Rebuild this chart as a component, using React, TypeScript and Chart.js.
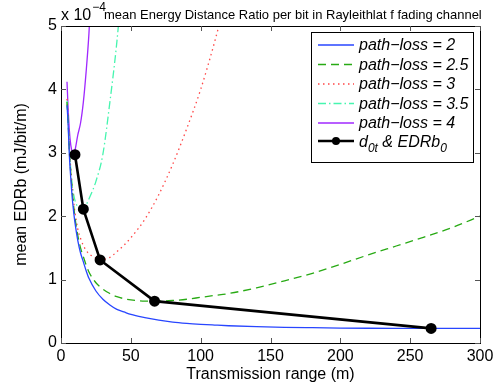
import React, { useEffect, useRef } from "react";
import { Chart, registerables } from "chart.js";

Chart.register(...registerables);

// Transmission range samples (m)
const distances = [4.3, 5, 6, 7, 8, 9, 10, 12, 14, 16, 18, 20, 25, 30, 35, 40, 45, 50, 60, 70, 80, 90, 100, 110, 120, 140, 160, 180, 200, 220, 240, 260, 280, 300];

// mean EDRb (x 1e-4 mJ/bit/m)
const pl2 = [3.75, 3.5, 2.95, 2.6, 2.3, 2.08, 1.9, 1.62, 1.42, 1.28, 1.14, 1.02, 0.82, 0.69, 0.6, 0.53, 0.49, 0.45, 0.4, 0.36, 0.33, 0.31, 0.295, 0.283, 0.272, 0.257, 0.247, 0.241, 0.236, 0.233, 0.231, 0.23, 0.23, 0.231];
const pl25 = [3.8, 3.55, 3.02, 2.68, 2.4, 2.17, 1.98, 1.7, 1.5, 1.36, 1.23, 1.12, 0.95, 0.85, 0.78, 0.73, 0.7, 0.68, 0.66, 0.66, 0.67, 0.69, 0.72, 0.75, 0.78, 0.87, 0.98, 1.1, 1.24, 1.39, 1.53, 1.67, 1.82, 2.0];
const pl3 = [3.85, 3.6, 3.08, 2.74, 2.46, 2.24, 2.06, 1.8, 1.65, 1.54, 1.46, 1.41, 1.34, 1.32, 1.35, 1.44, 1.54, 1.66, 1.95, 2.34, 2.82, 3.38, 4.0, 4.75, 5.6, null, null, null, null, null, null, null, null, null];
const pl35 = [3.82, 3.57, 3.06, 2.74, 2.5, 2.35, 2.25, 2.15, 2.12, 2.12, 2.18, 2.27, 2.55, 2.98, 3.8, 4.75, 6.0, null, null, null, null, null, null, null, null, null, null, null, null, null, null, null, null, null];
const pl4 = [4.12, 3.75, 3.35, 3.12, 3.02, 3.0, 3.04, 3.28, 3.47, 3.8, 4.28, 4.88, 7.0, null, null, null, null, null, null, null, null, null, null, null, null, null, null, null, null, null, null, null, null, null];

// optimal points d_0t & EDRb_0
const optDistance = [10, 16, 28, 67, 265];
const optEdr = [2.97, 2.11, 1.31, 0.66, 0.23];

const xTicks = [0, 50, 100, 150, 200, 250, 300];
const yTicks = [0, 1, 2, 3, 4, 5];

const legendLabels = ["path\u2212loss = 2", "path\u2212loss = 2.5", "path\u2212loss = 3", "path\u2212loss = 3.5", "path\u2212loss = 4"];

const FONT = "'Liberation Sans', Arial, Helvetica, sans-serif";

function toPoints(ys: (number | null)[]) {
  return distances.map((d, i) => ({ x: d, y: ys[i] }));
}

export default function App() {
  const ref = useRef<HTMLCanvasElement | null>(null);

  useEffect(() => {
    document.body.style.margin = "0";
    const canvas = ref.current;
    if (!canvas) return;

    const series = [
      { data: pl2, color: "rgb(40,70,255)", dash: [] as number[] },
      { data: pl25, color: "rgb(40,170,20)", dash: [8, 5] },
      { data: pl3, color: "rgb(255,70,70)", dash: [1.5, 3.5] },
      { data: pl35, color: "rgb(70,245,175)", dash: [8, 3, 1.5, 3] },
      { data: pl4, color: "rgb(160,40,255)", dash: [] as number[] },
    ];

    const datasets: any[] = [
      {
        label: "d0t & EDRb0",
        data: optDistance.map((d, i) => ({ x: d, y: optEdr[i] })),
        borderColor: "#000",
        backgroundColor: "#000",
        borderWidth: 2.6,
        pointRadius: 4.2,
        pointBackgroundColor: "#000",
        pointBorderColor: "#000",
        tension: 0,
        order: 0,
      },
      ...series.map((s, i) => ({
        label: legendLabels[i],
        data: toPoints(s.data),
        borderColor: s.color,
        backgroundColor: s.color,
        borderWidth: 1.3,
        borderDash: s.dash,
        pointRadius: 0,
        cubicInterpolationMode: "monotone",
        spanGaps: false,
        order: 1 + i,
      })),
    ];

    const framePlugin = {
      id: "frame",
      afterDatasetsDraw(chart: any) {
        const { ctx, chartArea: a, scales } = chart;
        ctx.save();
        ctx.strokeStyle = "#000";
        ctx.lineWidth = 1;
        ctx.strokeRect(a.left + 0.5, a.top + 0.5, a.right - a.left, a.bottom - a.top);
        ctx.strokeStyle = "#555";
        const tl = 5;
        xTicks.forEach((v) => {
          const x = Math.round(scales.x.getPixelForValue(v)) + 0.5;
          ctx.beginPath();
          ctx.moveTo(x, a.bottom);
          ctx.lineTo(x, a.bottom - tl);
          ctx.moveTo(x, a.top);
          ctx.lineTo(x, a.top + tl);
          ctx.stroke();
        });
        yTicks.forEach((v) => {
          const y = Math.round(scales.y.getPixelForValue(v)) + 0.5;
          ctx.beginPath();
          ctx.moveTo(a.left, y);
          ctx.lineTo(a.left + tl, y);
          ctx.moveTo(a.right, y);
          ctx.lineTo(a.right - tl, y);
          ctx.stroke();
        });
        ctx.restore();
      },
      afterDraw(chart: any) {
        const { ctx, chartArea: a } = chart;
        ctx.save();
        ctx.fillStyle = "#000";
        // exponent label
        ctx.textBaseline = "alphabetic";
        ctx.textAlign = "left";
        ctx.font = `16px ${FONT}`;
        ctx.fillText("x 10", a.left, 20);
        const w10 = ctx.measureText("x 10").width;
        ctx.font = `12px ${FONT}`;
        ctx.fillText("\u22124", a.left + w10 + 1, 11);
        // title
        const title = "mean Energy Distance Ratio per bit in Rayleithlat f fading channel";
        ctx.font = `12px ${FONT}`;
        const tw = ctx.measureText(title).width;
        const target = 378;
        const fs = (12 * target) / tw;
        ctx.font = `${fs.toFixed(2)}px ${FONT}`;
        ctx.fillText(title, 104, 19);

        // axis titles
        ctx.font = `16px ${FONT}`;
        ctx.textAlign = "center";
        ctx.textBaseline = "middle";
        ctx.fillText("Transmission range (m)", (a.left + a.right) / 2, 375);
        ctx.save();
        ctx.translate(22, (a.top + a.bottom) / 2);
        ctx.rotate(-Math.PI / 2);
        ctx.fillText("mean EDRb (mJ/bit/m)", 0, 0);
        ctx.restore();

        // legend
        const bx = 311, by = 32, bw = 162, bh = 130;
        ctx.fillStyle = "#fff";
        ctx.fillRect(bx, by, bw, bh);
        ctx.strokeStyle = "#000";
        ctx.lineWidth = 1;
        ctx.strokeRect(bx + 0.5, by + 0.5, bw, bh);
        const rows = [45, 64.5, 84, 103.5, 123, 145];
        const lx0 = 318, lx1 = 354, tx = 359;
        ctx.textAlign = "left";
        ctx.textBaseline = "middle";
        series.forEach((s, i) => {
          const y = rows[i];
          ctx.strokeStyle = s.color;
          ctx.lineWidth = 1.3;
          ctx.setLineDash(s.dash);
          ctx.beginPath();
          ctx.moveTo(lx0, y);
          ctx.lineTo(lx1, y);
          ctx.stroke();
          ctx.setLineDash([]);
          ctx.fillStyle = "#000";
          ctx.font = `italic 16px ${FONT}`;
          ctx.fillText(legendLabels[i], tx, y + 1);
        });
        // optimal entry
        const y6 = rows[5] - 4;
        ctx.strokeStyle = "#000";
        ctx.lineWidth = 2.6;
        ctx.beginPath();
        ctx.moveTo(lx0, y6);
        ctx.lineTo(lx1, y6);
        ctx.stroke();
        ctx.beginPath();
        ctx.arc((lx0 + lx1) / 2, y6, 4, 0, Math.PI * 2);
        ctx.fillStyle = "#000";
        ctx.fill();
        let x = tx;
        ctx.font = `italic 16px ${FONT}`;
        ctx.textBaseline = "alphabetic";
        const base = y6 + 6;
        ctx.fillText("d", x, base);
        x += ctx.measureText("d").width;
        ctx.font = `italic 12px ${FONT}`;
        ctx.fillText("0t", x, base + 5);
        x += ctx.measureText("0t").width;
        ctx.font = `italic 16px ${FONT}`;
        ctx.fillText(" & EDRb", x, base);
        x += ctx.measureText(" & EDRb").width;
        ctx.font = `italic 12px ${FONT}`;
        ctx.fillText("0", x, base + 5);
        ctx.restore();
      },
    };

    const chart = new Chart(canvas, {
      type: "line",
      data: { datasets },
      options: {
        responsive: false,
        animation: false,
        maintainAspectRatio: false,
        layout: { padding: { top: 26, right: 18, left: 0, bottom: 0 } },
        plugins: { legend: { display: false }, tooltip: { enabled: false }, title: { display: false } },
        scales: {
          x: {
            type: "linear",
            min: 0,
            max: 300,
            afterBuildTicks: (s: any) => {
              s.ticks = xTicks.map((v) => ({ value: v }));
            },
            afterFit: (s: any) => {
              s.height = 44;
            },
            grid: { display: false, drawTicks: false },
            border: { display: false },
            ticks: { padding: 4, color: "#000", font: { family: FONT, size: 16 }, maxRotation: 0 },
          },
          y: {
            type: "linear",
            min: 0,
            max: 5,
            afterBuildTicks: (s: any) => {
              s.ticks = yTicks.map((v) => ({ value: v }));
            },
            afterFit: (s: any) => {
              s.width = 61;
            },
            grid: { display: false, drawTicks: false },
            border: { display: false },
            ticks: { padding: 4, color: "#000", font: { family: FONT, size: 16 } },
          },
        },
      },
      plugins: [framePlugin],
    } as any);

    return () => chart.destroy();
  }, []);

  return (
    <div style={{ width: 498, height: 387, background: "#fff" }}>
      <canvas ref={ref} width={498} height={387} style={{ display: "block" }} />
    </div>
  );
}
